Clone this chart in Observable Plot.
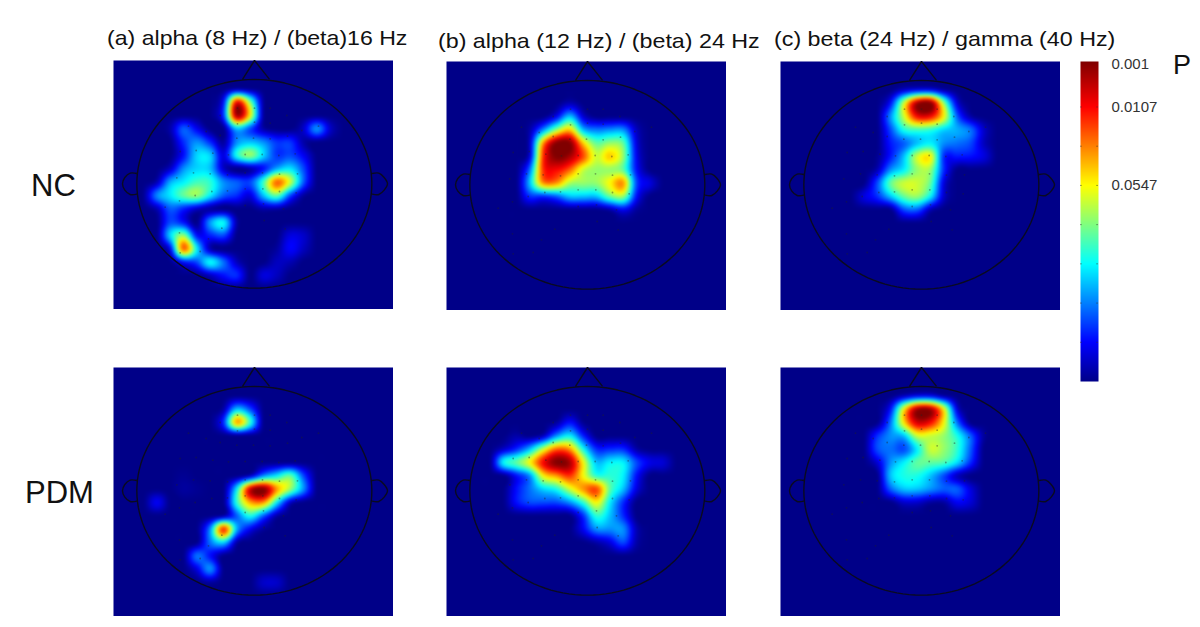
<!DOCTYPE html>
<html><head><meta charset="utf-8">
<script src="https://cdn.jsdelivr.net/npm/d3@7"></script>
<script src="https://cdn.jsdelivr.net/npm/@observablehq/plot@0.6"></script>
<style>
body{margin:0;background:#fff;width:1200px;height:627px;overflow:hidden;position:relative;font-family:"Liberation Sans",Arial,sans-serif;color:#111}
.t{position:absolute;white-space:nowrap;line-height:1;transform-origin:left top}
.p{position:absolute}
svg{display:block}
</style></head><body>
<script>
const gridCols=[100,140,180,220,260,300,340,380,420,460,500,540,580,620,660,700];
const gridRows=[100,140,180,220,260,300,340,380,420,460,500,540,580,620,660,700];
const Z=[0,0,0,0,0,0,0,0,0,0,0,0,0,0,0,0];
const panelNCa=[
[0,0,0,0,0,0,0,.3,.1,0,0,0,0,0,0,0],
[0,0,0,0,0,0,1.2,8.5,4.8,.2,0,0,0,0,0,0],
[0,0,0,0,0,0,1.6,9.5,6,.2,0,0,0,0,0,0],
[0,0,.3,2,1,0,0,3,1.8,.3,0,0,.6,2.5,.6,0],
[0,0,0,1.5,2.5,1.5,.2,2.5,3,2.5,1.6,1.6,.3,0,0,0],
[0,0,0,1.2,3.2,3.2,.8,3.8,5,3.2,1.6,1.8,1,0,0,0],
[0,0,.6,2.5,3.2,3,.6,0,.3,1.2,2.8,3.4,1.8,0,0,0],
[0,.4,2.8,3.5,4.2,4,2.5,2,1.8,4.2,7.5,5.5,2,0,0,0],
[.1,2.4,3.4,4.5,5,3.5,2,1.5,.8,3,4.5,1.8,.2,0,0,0],
[0,.4,2,1.4,.6,.2,0,0,0,.3,.3,0,0,0,0,0],
[0,0,1.8,1.2,0,2.6,3.6,.3,0,0,0,0,0,0,0,0],
[0,0,3.2,5,1.2,1.4,1.8,0,0,0,0,.8,.6,0,0,0],
[0,0,1,7.5,3.5,.4,0,0,0,0,.2,1.1,.5,0,0,0],
[0,0,0,1.2,1.8,3.6,2.2,.5,0,0,.5,.4,0,0,0,0],
[0,0,0,0,0,.5,1.2,1.5,0,.8,.5,0,0,0,0,0],
Z];
const panelNCb=[Z,
[0,0,0,0,0,0,0,.4,0,0,0,0,0,0,0,0],
[0,0,0,0,0,0,1,3,.7,0,0,0,0,0,0,0],
[0,0,0,0,.3,2.5,5,6.5,3,2.3,2.5,2.5,.5,0,0,0],
[0,0,0,0,.6,7,10,10,6.5,4.5,5,4.5,.8,0,0,0],
[0,0,0,0,.8,8,10,9.5,7.8,5.5,6.5,5,1,0,0,0],
[0,0,0,0,2.2,8,8.5,7.5,5.5,5,5,4.5,1.2,0,0,0],
[0,0,0,0,3,7,7,5.2,5,5,6,7,1.8,.8,0,0],
[0,0,0,0,1.5,1.5,2,3,3,3,4.5,5,1.2,0,0,0],
[0,0,0,0,0,0,0,0,0,0,.3,1,.2,0,0,0],
Z,Z,Z,Z,Z,Z];
const panelNCc=[
[0,0,0,0,0,0,0,.6,1,1,.3,0,0,0,0,0],
[0,0,0,0,0,0,1.2,5.5,9.5,10,5,.8,0,0,0,0],
[0,0,0,0,0,0,2.5,5.5,8.5,8.5,6,2,.3,0,0,0],
[0,0,0,0,0,0,1.8,3.8,4.2,4,3.2,2.8,2.2,.6,0,0],
[0,0,0,0,0,0,1.3,2,3,3.5,2.5,2.2,1.8,.5,0,0],
[0,0,0,0,0,.1,1.3,3,5.5,6,1.5,1.3,1.2,.8,0,0],
[0,0,0,0,0,.4,2.5,3.5,5,5,1.5,0,0,0,0,0],
[0,0,0,0,0,1.8,4.5,5.5,5.5,4.5,.8,0,0,0,0,0],
[0,0,0,0,.8,1.5,3,4.5,5,3.5,.6,0,0,0,0,0],
[0,0,0,0,0,0,0,1.8,2,.4,0,0,0,0,0,0],
Z,Z,Z,Z,Z,Z];
const panelPDMa=[Z,
[0,0,0,0,0,0,.3,3,1.8,0,0,0,0,0,0,0],
[0,0,0,0,0,0,1.5,6.8,4,0,0,0,0,0,0,0],
Z,Z,Z,
[0,0,0,.1,0,0,0,0,.6,2.5,3.5,4.5,1.8,0,0,0],
[0,0,0,.2,.1,0,0,3.5,9,10,7,5,2.5,0,0,0],
[0,1,0,0,0,0,0,4,6.8,7,3.5,.6,0,0,0,0],
[0,0,0,0,0,0,.3,2,3.8,2,.3,0,0,0,0,0],
[0,0,0,0,0,2.5,8,2.8,1,.2,0,0,0,0,0,0],
[0,0,0,0,0,2.2,3.2,.3,0,0,0,0,0,0,0,0],
[0,0,0,0,2.2,1.2,0,0,0,0,0,0,0,0,0,0],
[0,0,0,0,.8,2.5,0,0,0,0,0,0,0,0,0,0],
[0,0,0,0,0,.2,0,0,0,.6,.6,0,0,0,0,0],
Z];
const panelPDMb=[Z,Z,
[0,0,0,0,0,0,.2,1.2,.1,0,0,0,0,0,0,0],
[0,0,0,.3,0,.5,2.5,3.5,1.4,0,0,0,0,0,0,0],
[0,0,.6,1.5,3,5.5,7.5,7,3.8,1.5,1.5,1.5,.3,0,0,0],
[0,0,3.5,4.5,6,8.5,10,9.5,6,3,3.5,3.5,1.8,.9,.7,0],
[0,0,0,1.2,2.5,6,7,8,6,4,4,3.5,1.2,0,0,0],
[0,0,0,1.2,2.2,3.2,3.8,5.5,7,7.8,4.5,3,.8,0,0,0],
[0,0,0,1.2,1.8,1.8,1.8,2.5,4,6,3.5,1.5,0,0,0,0],
[0,0,0,0,0,0,0,0,1.5,4,3,1.5,0,0,0,0],
[0,0,0,0,0,0,0,0,1,2.5,2.5,2.5,.4,0,0,0],
[0,0,0,0,0,0,0,0,0,.3,.8,1.8,.3,0,0,0],
Z,Z,Z,Z];
const panelPDMc=[
[0,0,0,0,0,0,0,.5,1,1,.3,0,0,0,0,0],
[0,0,0,0,0,0,1.2,6,9.5,9.5,6,.8,0,0,0,0],
[0,0,0,0,0,0,2.2,6.2,9,8.5,6,2.2,0,0,0,0],
[0,0,0,0,0,1.5,2.5,3,5.5,5.5,5,3.8,2,.2,0,0],
[0,0,0,0,0,1.8,2.2,1.8,3.5,5.5,5,4,2,0,0,0],
[0,0,0,0,0,.7,2.5,3.5,4.5,4.5,4.3,3.3,1.5,0,0,0],
[0,0,0,0,0,0,3,3.8,3.8,3,1.8,.5,0,0,0,0],
[0,0,0,0,0,0,2,3,3,2.5,2,2,.8,0,0,0],
[0,0,0,0,0,0,0,.6,.6,.2,.2,1,.7,0,0,0],
Z,Z,Z,Z,Z,Z,Z];

const electrodeX=[382,433,480,330,530,382,433,480,235,625,288,330,380,430,480,532,575,210,258,308,355,405,456,506,555,200,250,300,352,405,457,508,562,208,255,305,352,405,458,508,558,165,405,460,520,208,335,295,462,525,210,270];
const electrodeY=[158,158,158,180,180,205,200,203,212,212,228,240,248,248,250,242,225,288,285,293,298,297,297,300,295,367,352,355,358,352,352,356,355,436,420,408,406,400,400,408,412,455,450,445,460,532,518,550,495,520,592,588];
const noseX=[398,433,477], noseY=[70,15,70];
const earLX=[80,60,44,37,44,60,80], earRX=[786,806,822,832,822,806,786], earY=[354,353,366,385,404,417,416];
const jetPos=[0,1.1,3.6,6,8.5,10];
const barPos=[0,1,3,5,7,8.16];
const jetCol=["#000088","#0000ff","#00ffff","#ffff00","#ff0000","#800000"];
const colorbarTicks=[8.1,7,5], colorbarLabels=["0.001","0.0107","0.0547"], colorbarMinor=[1,2,3,4,5,6,7];
const panels=[
 {m:panelNCa,l:113.3,t:60},{m:panelNCb,l:446.3,t:61},{m:panelNCc,l:779.5,t:61},
 {m:panelPDMa,l:113.3,t:366.5},{m:panelPDMb,l:446.3,t:367},{m:panelPDMc,l:779.5,t:367}];
const titles=[
 ["(a) alpha (8 Hz) / (beta)16 Hz",107,26.5,21,1.1],
 ["(b) alpha (12 Hz) / (beta) 24 Hz",438,29.5,21,1.107],
 ["(c) beta (24 Hz) / gamma (40 Hz)",774,27.5,21,1.108],
 ["NC",31,169.7,31,1],["PDM",25,476.7,31,1],["P",1173,52,27,1]];

function catmull(a,b,c,d,t){return b+.5*t*(c-a+t*(2*a-5*b+4*c-d+t*(3*(b-c)+d-a)))}
function sampler(m){
  const at=(r,c)=>(r<0||r>=gridRows.length||c<0||c>=gridCols.length)?0:m[r][c];
  return (x,y)=>{
    const u=(x-gridCols[0])/40, v=(y-gridRows[0])/40;
    const c=Math.floor(u), r=Math.floor(v), fu=u-c, fv=v-r;
    const row=i=>catmull(at(r+i,c-1),at(r+i,c),at(r+i,c+1),at(r+i,c+2),fu);
    return Math.max(0,catmull(row(-1),row(0),row(1),row(2),fv));
  };
}
const angle=d3.range(0,361,3);
const xs=angle.map(a=>432.5+352.5*Math.cos(a*Math.PI/180));
const ys=angle.map(a=>385+313*Math.sin(a*Math.PI/180));
const colorOpts={type:"linear",domain:jetPos,range:jetCol,interpolate:"rgb",clamp:true};
const ink={stroke:"#0a0a20",strokeWidth:1.4};
function place(el,l,t){const d=document.createElement("div");d.className="p";d.style.left=l+"px";d.style.top=t+"px";d.appendChild(el);document.body.appendChild(d)}

for(const p of panels){
  const chart=Plot.plot({width:280,height:249,margin:0,
    x:{domain:[10,850],axis:null},y:{domain:[762,15],axis:null},
    color:colorOpts,
    marks:[
      Plot.raster({x1:10,x2:850,y1:15,y2:762,fill:sampler(p.m),pixelSize:1,blur:1}),
      Plot.dot(electrodeX,{x:electrodeX,y:electrodeY,r:.9,fill:"#222",fillOpacity:.4,stroke:null}),
      Plot.line(xs,{x:xs,y:ys,...ink}),
      Plot.line(noseX,{x:noseX,y:noseY,...ink}),
      Plot.line(earLX,{x:earLX,y:earY,curve:"catmull-rom",...ink}),
      Plot.line(earRX,{x:earRX,y:earY,curve:"catmull-rom",...ink})
    ]});
  place(chart,p.l,p.t);
}

const bar=Plot.plot({width:110,height:340,marginTop:15,marginBottom:5,marginLeft:0,marginRight:92,
  x:{domain:[0,1],axis:null},y:{domain:[0,8.16]},
  color:{...colorOpts,domain:barPos},
  style:{fontFamily:"Liberation Sans",fontSize:"15px",color:"#333"},
  marks:[
    Plot.raster({x1:0,x2:1,y1:0,y2:8.16,fill:(x,y)=>y,pixelSize:1}),
    Plot.ruleY(colorbarMinor,{x1:0,x2:.1,stroke:"#333",strokeOpacity:.5}),
    Plot.ruleY(colorbarMinor,{x1:.9,x2:1,stroke:"#333",strokeOpacity:.5}),
    Plot.axisY(colorbarTicks,{anchor:"right",tickSize:0,tickPadding:13,label:null,
      tickFormat:d=>colorbarLabels[colorbarTicks.indexOf(d)],fill:"#333",textAnchor:"start",lineAnchor:"middle"})
  ]});
place(bar,1080,46);

for(const [s,l,t,f,k] of titles){
  const e=document.createElement("div");e.className="t";e.textContent=s;
  e.style.left=l+"px";e.style.top=t+"px";e.style.fontSize=f+"px";e.style.transform=`scaleX(${k})`;document.body.appendChild(e);
}
</script>
</body></html>
